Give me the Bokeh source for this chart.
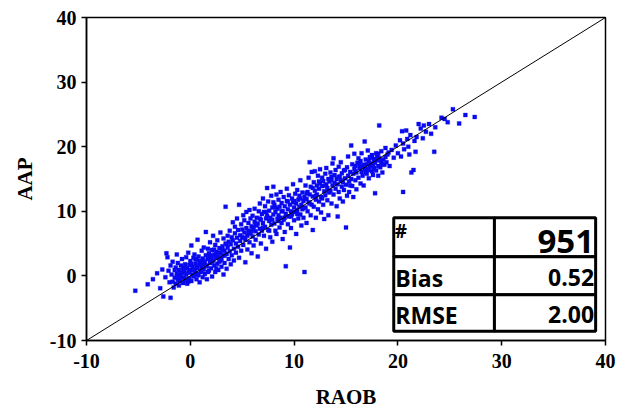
from bokeh.plotting import figure
from bokeh.embed import file_html
from bokeh.resources import INLINE
from bokeh.models import Range1d, FixedTicker, Slope
from bokeh.core.properties import value

# ---- data ----
raob_a = [-5.3, -4.1, -3.6, -3.2, -2.9, -2.6, -2.7, -2.4, -2.3, -2.2, -2.1, -2.0, -1.9, -1.9, -1.8, -1.7, -1.7, -1.6, -1.5, -1.5,
          -1.4, -1.4, -1.3, -1.3, -1.2, -1.2, -1.1, -1.1, -1.0, -1.0, -0.9, -0.9, -0.8, -0.8, -0.7, -0.7, -0.6, -0.6, -0.5, -0.5]
aap_a = [-2.3, -1.3, -0.5, 0.4, -1.9, -3.2, 1.0, -0.2, 3.5, 2.9, 0.8, -1.0, -3.4, 1.6, 0.2, -0.9, 2.2, -1.8, 0.9, -0.3,
         1.3, -1.2, 3.3, 0.4, -0.6, 2.0, -1.5, 0.9, 0.1, -0.8, 1.6, -0.3, 2.6, 0.5, -1.1, 1.1, -0.2, 0.7, 1.8, -0.6]

raob_b = [-0.4, -0.4, -0.3, -0.3, -0.2, -0.2, -0.1, -0.1, 0.0, 0.0, 0.1, 0.1, 0.2, 0.2, 0.3, 0.3, 0.4, 0.4, 0.5, 0.5,
          0.6, 0.6, 0.7, 0.7, 0.8, 0.8, 0.9, 0.9, 1.0, 1.0, 1.1, 1.1, 1.2, 1.2, 1.3, 1.3, 1.4, 1.4, 1.5, 1.5]
aap_b = [0.2, 2.9, -1.2, 1.2, 0.5, 3.6, -0.4, 1.7, 0.9, 2.3, -0.8, 4.7, 1.4, 0.2, 2.8, -0.1, 1.0, 3.3, 0.5, 1.9,
         -0.5, 2.5, 1.2, 5.6, 0.1, 3.0, 1.7, -1.0, 2.2, 0.6, 3.9, 1.3, -0.2, 2.7, 1.0, 4.4, 2.0, 0.3, 3.2, 6.8]

raob_c = [1.6, 1.6, 1.7, 1.7, 1.8, 1.8, 1.9, 1.9, 2.0, 2.0, 2.1, 2.1, 2.2, 2.2, 2.3, 2.3, 2.4, 2.4, 2.5, 2.5,
          2.6, 2.6, 2.7, 2.7, 2.8, 2.8, 2.9, 2.9, 3.0, 3.0, 3.1, 3.1, 3.2, 3.2, 3.3, 3.3, 3.4, 3.4, 3.5, 3.5]
aap_c = [1.5, -0.5, 2.6, 4.2, 0.8, 3.5, 2.0, 5.2, 1.2, 3.0, -0.1, 4.0, 2.4, 6.2, 1.6, 3.3, 0.6, 4.8, 2.8, 3.7,
         1.9, 5.5, 3.0, 0.9, 4.3, 2.2, 3.6, 6.7, 2.6, 1.4, 4.6, 3.2, 5.8, 0.2, 3.9, 2.0, 10.7, 5.0, 3.4, 1.1]

raob_d = [3.6, 3.6, 3.7, 3.7, 3.8, 3.8, 3.9, 3.9, 4.0, 4.0, 4.1, 4.1, 4.2, 4.2, 4.3, 4.3, 4.4, 4.4, 4.5, 4.5,
          4.6, 4.6, 4.7, 4.7, 4.8, 4.8, 4.9, 4.9, 5.0, 5.0, 5.1, 5.1, 5.2, 5.2, 5.3, 5.3, 5.4, 5.4, 5.5, 5.5,
          5.6, 5.6, 5.7, 5.7, 5.8, 5.8, 5.9, 5.9]
aap_d = [4.4, 6.2, 2.6, 5.3, 3.8, 7.0, 4.9, 1.8, 6.0, 3.2, 5.5, 8.3, 4.2, 2.4, 6.6, 7.6, 5.0, 3.6, 5.9, 8.9,
         4.5, 7.1, 11.0, 2.8, 6.3, 5.4, 8.0, 3.9, 7.2, 6.0, 9.4, 4.8, 6.7, 8.6, 5.6, 2.1, 7.4, 9.9, 6.2, 4.1,
         8.2, 7.0, 5.2, 10.2, 6.6, 8.9, 3.5, 7.7]

raob_e = [6.0, 6.0, 6.1, 6.1, 6.2, 6.2, 6.3, 6.3, 6.4, 6.4, 6.5, 6.5, 6.6, 6.6, 6.7, 6.7, 6.8, 6.8, 6.9, 6.9,
          7.0, 7.0, 7.1, 7.1, 7.2, 7.2, 7.3, 7.3, 7.4, 7.4, 7.5, 7.5, 7.6, 7.6, 7.7, 7.7, 7.8, 7.8, 7.9, 7.9,
          8.0, 8.0, 8.1, 8.1, 8.2, 8.2, 8.3, 8.3, 8.4, 8.4]
aap_e = [6.1, 9.3, 7.5, 4.7, 8.4, 10.4, 6.9, 5.6, 9.0, 7.8, 8.1, 3.0, 10.0, 6.4, 7.3, 11.2, 8.7, 5.0, 9.6, 7.0,
         8.2, 12.0, 6.2, 9.9, 7.6, 10.8, 8.9, 4.2, 9.3, 13.6, 7.1, 11.5, 8.5, 10.1, 6.0, 9.0, 12.4, 7.9, 10.6, 5.3,
         9.5, 13.8, 8.1, 11.0, 7.0, 9.9, 12.6, 6.5, 10.4, 8.8]

raob_f = [8.5, 8.5, 8.6, 8.6, 8.7, 8.7, 8.8, 8.8, 8.9, 8.9, 9.0, 9.0, 9.1, 9.1, 9.2, 9.2, 9.3, 9.3, 9.4, 9.4,
          9.5, 9.5, 9.6, 9.6, 9.7, 9.7, 9.8, 9.8, 9.9, 9.9, 10.0, 10.0, 10.1, 10.1, 10.2, 10.2, 10.3, 10.3, 10.4, 10.4,
          10.5, 10.5, 10.6, 10.6, 10.7, 10.7, 10.8, 10.8, 10.9, 10.9]
aap_f = [9.4, 11.8, 7.5, 10.7, 9.0, 13.0, 8.2, 11.3, 5.7, 10.0, 12.2, 8.7, 10.8, 6.8, 1.5, 9.6, 11.6, 13.5, 8.0, 10.3,
         12.5, 9.2, 4.4, 11.0, 10.0, 7.4, 12.0, 9.5, 11.4, 14.2, 10.6, 8.6, 12.7, 9.9, 11.2, 6.5, 10.2, 13.3, 11.8, 8.9,
         10.7, 12.4, 9.5, 14.8, 11.0, 7.8, 12.9, 10.3, 11.6, 9.0]

raob_g = [11.0, 11.0, 11.1, 11.1, 11.2, 11.2, 11.3, 11.3, 11.4, 11.4, 11.5, 11.5, 11.6, 11.6, 11.7, 11.7, 11.8, 11.8, 11.9, 11.9,
          12.0, 12.0, 12.1, 12.1, 12.2, 12.2, 12.3, 12.3, 12.4, 12.4, 12.5, 12.5, 12.6, 12.6, 12.7, 12.7, 12.8, 12.8, 12.9, 12.9,
          13.0, 13.0, 13.1, 13.1, 13.2, 13.2, 13.3, 13.3, 13.4, 13.4]
aap_g = [0.6, 12.2, 10.6, 14.0, 11.9, 8.2, 13.0, 10.0, 15.2, 11.4, 17.6, 12.6, 9.4, 13.8, 11.0, 16.1, 12.3, 7.1, 14.5, 10.7,
         13.2, 16.2, 11.8, 9.0, 14.0, 12.6, 15.5, 10.3, 13.5, 11.5, 16.5, 14.3, 12.2, 9.8, 13.9, 15.2, 11.0, 14.7, 13.1, 8.8,
         15.8, 12.5, 14.2, 16.7, 11.7, 13.6, 15.0, 9.4, 14.6, 12.9]

raob_h = [13.5, 13.5, 13.6, 13.6, 13.7, 13.7, 13.8, 13.8, 13.9, 13.9, 14.0, 14.0, 14.1, 14.1, 14.2, 14.2, 14.3, 14.3, 14.4, 14.4,
          14.5, 14.5, 14.6, 14.6, 14.7, 14.7, 14.8, 14.8, 14.9, 15.0, 15.0, 15.1, 15.1, 15.2, 15.2, 15.3, 15.3, 15.4, 15.5, 15.5,
          15.6, 15.6, 15.7, 15.7, 15.8, 15.8, 15.9, 15.9]
aap_h = [16.0, 13.2, 15.3, 11.2, 14.0, 17.4, 18.2, 12.6, 15.6, 14.4, 13.5, 16.4, 10.8, 15.0, 9.2, 14.2, 16.9, 13.0, 15.4, 12.0,
         14.8, 17.6, 13.8, 15.9, 11.5, 14.5, 16.3, 13.3, 15.1, 7.5, 14.1, 16.8, 12.4, 15.5, 18.5, 14.6, 13.0, 16.1, 20.2, 15.0,
         17.3, 13.9, 15.8, 12.2, 16.6, 18.9, 14.8, 17.0]

raob_i = [16.0, 16.0, 16.1, 16.2, 16.2, 16.3, 16.4, 16.4, 16.5, 16.5, 16.6, 16.7, 16.7, 16.8, 16.8, 16.9, 17.0, 17.0, 17.1, 17.1,
          17.2, 17.2, 17.3, 17.3, 17.4, 17.5, 17.5, 17.6, 17.6, 17.7, 17.7, 17.8, 17.8, 17.9, 17.9, 18.0, 18.0, 18.1, 18.1, 18.2,
          18.2, 18.3, 18.4, 18.4, 18.5, 18.6, 18.7, 18.8, 18.9, 19.0]
aap_i = [16.0, 13.4, 17.5, 15.2, 18.2, 16.7, 14.3, 17.8, 16.1, 19.0, 15.5, 17.2, 14.0, 20.8, 16.5, 18.0, 15.8, 17.3, 16.6, 19.4,
         17.8, 15.1, 18.4, 16.9, 17.4, 16.2, 18.7, 17.1, 15.6, 18.1, 16.7, 12.8, 17.5, 19.0, 16.3, 17.9, 18.5, 17.0, 15.5, 23.3,
         18.2, 16.8, 17.6, 19.3, 16.0, 18.0, 17.2, 19.8, 17.6, 18.8]

raob_j = [19.2, 19.4, 19.6, 19.8, 20.0, 20.2, 20.3, 20.4, 20.5, 20.5, 20.6, 20.8, 20.9, 21.0, 21.1, 21.2, 21.3, 21.5, 21.6, 21.7,
          21.8, 22.0, 22.2, 22.4, 22.5, 22.7, 23.0, 23.2, 23.5, 23.6, 24.2, 24.5, 24.8, 25.3, 25.9, 26.5, 27.4]
aap_j = [17.0, 19.5, 18.3, 20.2, 19.0, 21.0, 18.5, 22.4, 13.0, 20.5, 19.6, 22.5, 21.2, 20.0, 18.8, 21.8, 16.0, 16.4, 20.9, 19.2,
         21.5, 23.5, 22.8, 21.3, 23.3, 22.3, 23.5, 22.0, 19.2, 23.0, 24.5, 24.3, 23.8, 25.8, 23.6, 24.9, 24.6]

raob_k = [-0.9, -0.6, -0.4, -0.1, 0.1, 0.3, 0.5, 0.7, 0.9, 1.1, 1.3, 1.5, 1.7, 1.9, 2.1, 2.3, 2.5, 2.7, 2.9, 3.1,
          3.3, 3.5, -1.3, -0.2, 0.6, 1.8, 2.4, 2.0, 1.2, 0.4]
aap_k = [0.4, 1.3, -0.6, 0.6, 1.9, 0.9, 2.6, 0.3, 2.3, 0.8, 2.4, 1.6, 0.6, 3.2, 2.2, 4.1, 1.2, 3.6, 2.4, 4.0,
         3.1, 4.9, -0.1, -0.9, 1.5, 2.7, 3.0, 2.6, 1.8, 0.1]

raob_l = [5.2, 5.6, 6.0, 6.3, 6.7, 7.0, 7.3, 7.6, 7.9, 8.2, 8.5, 8.8, 9.1, 9.4, 9.7, 10.0, 10.3, 10.6, 10.9, 11.2,
          11.5, 11.8, 12.1, 12.4, 12.7, 13.0, 13.3, 13.6, 5.9, 8.0]
aap_l = [5.9, 6.6, 7.2, 8.0, 8.9, 7.5, 9.9, 7.0, 8.7, 10.6, 8.5, 10.0, 9.0, 11.5, 9.2, 11.6, 9.6, 12.0, 10.5, 12.8,
         11.2, 13.6, 12.4, 14.6, 12.0, 14.0, 13.1, 14.8, 6.9, 11.4]

raob_m = [14.3, 14.9, 15.4, 15.9, 16.3, 16.9, 17.4, 17.7, 18.1, 18.5, 18.8, 19.1, 16.6, 17.2, 18.3]
aap_m = [15.3, 16.4, 14.0, 16.2, 17.3, 16.1, 18.3, 17.8, 18.9, 17.3, 18.4, 19.1, 16.9, 16.4, 17.9]

ticks = [-10, 0, 10, 20, 30, 40]
tick_labels = ["-10", "0", "10", "20", "30", "40"]
stat_names = ["#", "Bias", "RMSE"]
stat_values = ["951", "0.52", "2.00"]

raob = (raob_a + raob_b + raob_c + raob_d + raob_e + raob_f + raob_g + raob_h + raob_i + raob_j
        + raob_k + raob_l + raob_m)
aap = (aap_a + aap_b + aap_c + aap_d + aap_e + aap_f + aap_g + aap_h + aap_i + aap_j
       + aap_k + aap_l + aap_m)

# ---- figure ----
p = figure(width=618, height=411, x_range=Range1d(-10, 40), y_range=Range1d(-10, 40),
           output_backend="svg", toolbar_location=None,
           min_border_left=86, min_border_right=13, min_border_top=17, min_border_bottom=70)
p.background_fill_color = "white"
p.border_fill_color = "white"
p.outline_line_color = "black"
p.outline_line_width = 1.5
p.xgrid.visible = False
p.ygrid.visible = False

serif = "Liberation Serif"
for ax in (p.xaxis[0], p.yaxis[0]):
    ax.ticker = FixedTicker(ticks=ticks)
    ax.major_label_overrides = {t: s for t, s in zip(ticks, tick_labels)}
    ax.major_label_text_font = serif
    ax.major_label_text_font_style = "bold"
    ax.major_label_text_font_size = "20px"
    ax.major_label_text_color = "black"
    ax.axis_label_text_font = serif
    ax.axis_label_text_font_style = "bold"
    ax.axis_label_text_font_size = "21px"
    ax.axis_label_text_color = "black"
    ax.axis_line_color = "black"
    ax.axis_line_width = 1.5
    ax.major_tick_line_color = "black"
    ax.major_tick_line_width = 1.5
    ax.major_tick_out = 5
    ax.major_tick_in = 0
    ax.minor_tick_out = 0
    ax.minor_tick_in = 0

p.xaxis.axis_label = "RAOB"
p.yaxis.axis_label = "AAP"
p.xaxis.major_label_standoff = 8
p.xaxis.axis_label_standoff = 14
p.yaxis.major_label_standoff = 5
p.yaxis.axis_label_standoff = 10

# 1:1 line
p.add_layout(Slope(gradient=1, y_intercept=0, line_color="black", line_width=1))

# scatter
p.scatter(raob, aap, marker="square", size=4, fill_color="#0a0af0", line_color="#0a0af0", line_width=0.3)

# statistics table
col_edges = [19.6, 29.3, 39.05]
row_edges = [9.0, 2.95, -2.9, -8.56]
lefts, rights, tops, bottoms = [], [], [], []
for r in range(3):
    for c in range(2):
        lefts.append(col_edges[c]); rights.append(col_edges[c + 1])
        tops.append(row_edges[r]); bottoms.append(row_edges[r + 1])
p.quad(left=lefts, right=rights, top=tops, bottom=bottoms, fill_color="white",
       line_color="black", line_width=3)

sans = value("Open Sans")
mids = [(row_edges[i] + row_edges[i + 1]) / 2 for i in range(3)]
p.text(x=[col_edges[0] + 0.1], y=[row_edges[0] - 0.1], text=[stat_names[0]], text_font=sans,
       text_font_style="bold", text_font_size="19px", text_align="left", text_baseline="top", text_color="black")
p.text(x=[col_edges[0] + 0.15] * 2, y=[mids[1] - 0.3, mids[2] - 0.3], text=stat_names[1:], text_font=sans,
       text_font_style="bold", text_font_size="23px", text_align="left", text_baseline="middle", text_color="black")
p.text(x=[col_edges[2] - 0.15], y=[mids[0] - 0.6], text=[stat_values[0]], text_font=sans,
       text_font_style="bold", text_font_size="33px", text_align="right", text_baseline="middle", text_color="black")
p.text(x=[col_edges[2] - 0.15] * 2, y=[mids[1] - 0.3, mids[2] - 0.3], text=stat_values[1:], text_font=sans,
       text_font_style="bold", text_font_size="23px", text_align="right", text_baseline="middle", text_color="black")

open("out.html", "w").write(file_html(p, INLINE))
